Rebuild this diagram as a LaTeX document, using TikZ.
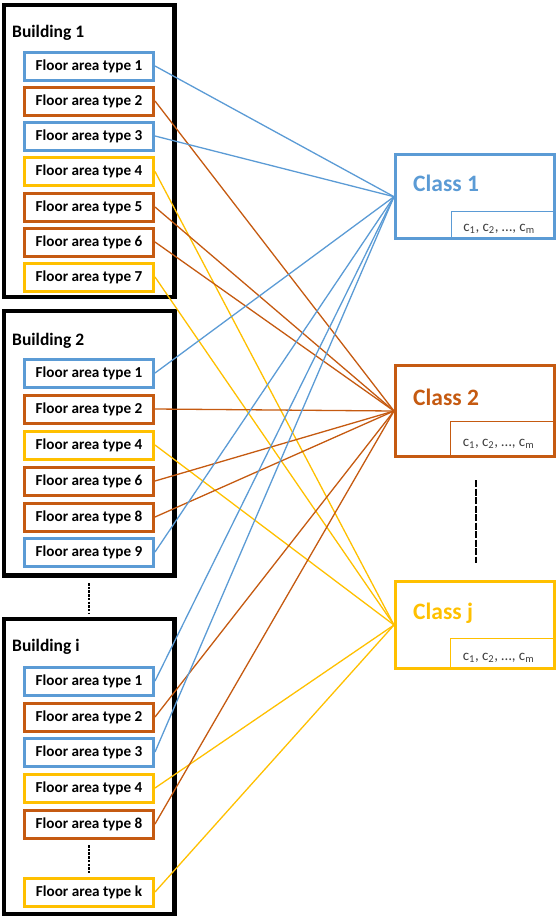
\documentclass[tikz,border=0pt]{standalone}
\usepackage{fontspec}
\setmainfont{Carlito}
\definecolor{cblue}{HTML}{5B9BD5}
\definecolor{corange}{HTML}{C55A11}
\definecolor{cyellow}{HTML}{FFC000}
\definecolor{cgray}{HTML}{3F3F3F}
\begin{document}
\begin{tikzpicture}[x=1pt,y=-1pt,
  bldg/.style={draw=black,line width=4.5pt,minimum width=170.5pt,inner sep=0pt},
  flr/.style={draw=#1,line width=3pt,fill=white,minimum width=129pt,minimum height=28pt,inner sep=0pt,font=\bfseries\fontsize{15.2}{16}\selectfont},
  cls/.style={draw=#1,line width=3pt,minimum width=159pt,inner sep=0pt},
  subbox/.style={draw=#1,line width=1.2pt,inner sep=0pt},
  ctext/.style={text=cgray,inner sep=0pt,anchor=base,font=\fontsize{15}{16}\selectfont},
  clab/.style={text=#1,anchor=base west,inner sep=0pt,font=\bfseries\fontsize{23.5}{25}\selectfont},
  blab/.style={anchor=base west,inner sep=0pt,font=\bfseries\fontsize{17.5}{19}\selectfont},
  link/.style={draw=#1,line width=1.3pt},
  dotline/.style={line width=1.4pt,dash pattern=on 2.5pt off 1.2pt},
  dashline/.style={line width=1.4pt,dash pattern=on 7pt off 1.5pt}
]
\useasboundingbox (0,0) rectangle (556,918);
% buildings
\node[bldg,minimum height=292pt] (B1) at (89.25,151) {};
\node[bldg,minimum height=264.5pt] (B2) at (89.25,443.25) {};
\node[bldg,minimum height=295pt] (Bi) at (89.25,766.5) {};
\node[blab] (L1) at (12,37.3) {Building 1};
\node[blab] (L2) at (12,345) {Building 2};
\node[blab] (Li) at (12,651.7) {Building i};
% building 1 floors
\node[flr=cblue]   (a1) at (89,66)  {Floor area type 1};
\node[flr=corange] (a2) at (89,101) {Floor area type 2};
\node[flr=cblue]   (a3) at (89,136) {Floor area type 3};
\node[flr=cyellow] (a4) at (89,171.5) {Floor area type 4};
\node[flr=corange] (a5) at (89,207) {Floor area type 5};
\node[flr=corange] (a6) at (89,242) {Floor area type 6};
\node[flr=cyellow] (a7) at (89,277) {Floor area type 7};
% building 2 floors
\node[flr=cblue]   (b1) at (89,373) {Floor area type 1};
\node[flr=corange] (b2) at (89,409) {Floor area type 2};
\node[flr=cyellow] (b4) at (89,445) {Floor area type 4};
\node[flr=corange] (b6) at (89,481) {Floor area type 6};
\node[flr=corange] (b8) at (89,517) {Floor area type 8};
\node[flr=cblue]   (b9) at (89,552) {Floor area type 9};
% building i floors
\node[flr=cblue]   (i1) at (89,681) {Floor area type 1};
\node[flr=corange] (i2) at (89,717) {Floor area type 2};
\node[flr=cblue]   (i3) at (89,752) {Floor area type 3};
\node[flr=cyellow] (i4) at (89,788) {Floor area type 4};
\node[flr=corange] (i8) at (89,824) {Floor area type 8};
\node[flr=cyellow] (ik) at (89,892) {Floor area type k};
% dotted separators
\coordinate (d1a) at (89,583);
\coordinate (d1b) at (89,613);
\draw[dotline] (d1a) -- (d1b);
\coordinate (d2a) at (89,845);
\coordinate (d2b) at (89,873);
\draw[dotline] (d2a) -- (d2b);
\coordinate (d3a) at (476,480);
\coordinate (d3b) at (476,563);
\draw[dashline] (d3a) -- (d3b);
% classes
\node[cls=cblue,minimum height=84.5pt]   (C1) at (475,196.7) {};
\node[cls=corange,minimum height=91pt]   (C2) at (475,411) {};
\node[cls=cyellow,minimum height=87pt]   (Cj) at (475,625) {};
\node[subbox=cblue,minimum width=102.8pt,minimum height=27.3pt] (S1) at (503.1,225.35) {};
\node[subbox=corange,minimum width=103.8pt,minimum height=34.8pt] (S2) at (502.6,439.1) {};
\node[subbox=cyellow,minimum width=103.8pt,minimum height=30.2pt] (Sj) at (502.6,653.4) {};
\node[ctext] (X1) at (499,231.5) {c\textsubscript{1}, c\textsubscript{2}, …, c\textsubscript{m}};
\node[ctext] (X2) at (498.5,446) {c\textsubscript{1}, c\textsubscript{2}, …, c\textsubscript{m}};
\node[ctext] (Xj) at (498.5,660) {c\textsubscript{1}, c\textsubscript{2}, …, c\textsubscript{m}};
\node[clab=cblue]   (T1) at (413,191.7) {Class 1};
\node[clab=corange] (T2) at (413,405.7) {Class 2};
\node[clab=cyellow] (Tj) at (413,619) {Class j};
% links
\draw[link=cblue] (a1.east) -- (C1.west);
\draw[link=corange] (a2.east) -- (C2.west);
\draw[link=cblue] (a3.east) -- (C1.west);
\draw[link=cyellow] (a4.east) -- (Cj.west);
\draw[link=corange] (a5.east) -- (C2.west);
\draw[link=corange] (a6.east) -- (C2.west);
\draw[link=cyellow] (a7.east) -- (Cj.west);
\draw[link=cblue] (b1.east) -- (C1.west);
\draw[link=corange] (b2.east) -- (C2.west);
\draw[link=cyellow] (b4.east) -- (Cj.west);
\draw[link=corange] (b6.east) -- (C2.west);
\draw[link=corange] (b8.east) -- (C2.west);
\draw[link=cblue] (b9.east) -- (C1.west);
\draw[link=cblue] (i1.east) -- (C1.west);
\draw[link=corange] (i2.east) -- (C2.west);
\draw[link=cblue] (i3.east) -- (C1.west);
\draw[link=cyellow] (i4.east) -- (Cj.west);
\draw[link=corange] (i8.east) -- (C2.west);
\draw[link=cyellow] (ik.east) -- (Cj.west);
\end{tikzpicture}
\end{document}
